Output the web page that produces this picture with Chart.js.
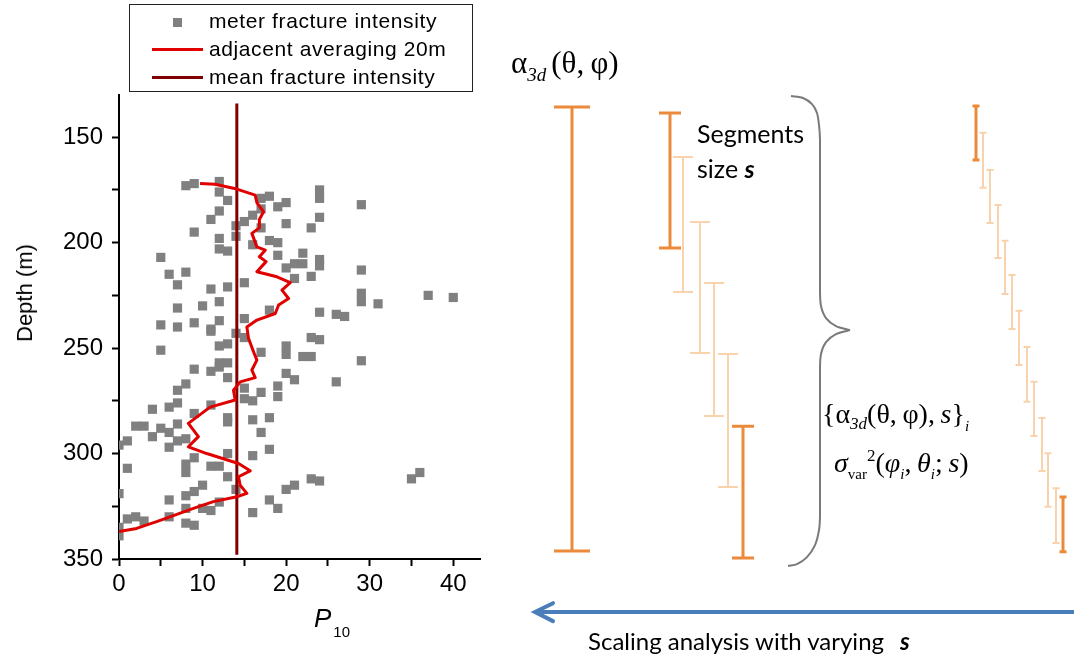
<!DOCTYPE html>
<html><head><meta charset="utf-8">
<script src="https://cdn.jsdelivr.net/npm/chart.js@4.4.1/dist/chart.umd.min.js"></script>
<style>
html,body{margin:0;padding:0;background:#fff;}
#wrap{position:relative;width:1074px;height:661px;overflow:hidden;background:#fff;}
canvas{position:absolute;}
.t{position:absolute;white-space:nowrap;line-height:1;color:#000;}
.sans{font-family:'Liberation Sans',Arial,sans-serif;}
.serif{font-family:'Liberation Serif','Times New Roman',serif;}
.lato{font-family:Lato,'Open Sans',sans-serif;}
.leg{font-family:'Liberation Sans',Arial,sans-serif;font-size:21px;letter-spacing:0.6px;}
</style></head><body>
<div id="wrap">
<canvas id="left" width="500" height="661" style="left:0;top:0"></canvas>
<canvas id="right" width="584" height="661" style="left:490px;top:0"></canvas>

<!-- legend -->
<div style="position:absolute;left:129px;top:4px;width:344px;height:88px;border:1.5px solid #222;box-sizing:border-box;"></div>
<div style="position:absolute;left:173px;top:18px;width:9px;height:9px;background:#808080;"></div>
<div style="position:absolute;left:152px;top:48px;width:51px;height:3px;background:#e00000;"></div>
<div style="position:absolute;left:152px;top:76px;width:51px;height:3px;background:#7f0000;"></div>
<div class="t leg" style="left:209px;top:10px">meter fracture intensity</div>
<div class="t leg" style="left:209px;top:38px">adjacent averaging 20m</div>
<div class="t leg" style="left:209px;top:66px">mean fracture intensity</div>

<!-- axis titles -->
<div class="t sans" style="left:25px;top:293px;font-size:22px;transform:translate(-50%,-50%) rotate(-90deg);">Depth (m)</div>
<div class="t sans" style="left:314px;top:605px;font-size:26px;font-style:italic;">P<span style="font-style:normal;font-size:15px;position:relative;top:10px;left:2px">10</span></div>

<!-- right panel text -->
<div class="t serif" style="left:511px;top:47px;font-size:31px;">α<span style="font-style:italic;font-size:19px;position:relative;top:8px">3d</span><span style="margin-left:5px">(θ,&thinsp;φ)</span></div>
<div class="t lato" style="left:697px;top:121px;font-size:25px;">Segments</div>
<div class="t lato" style="left:697px;top:156px;font-size:25px;">size <b><i>s</i></b></div>
<div class="t serif" style="left:822px;top:400px;font-size:28px;">{α<span style="font-style:italic;font-size:17px;position:relative;top:6px">3d</span>(θ,&thinsp;φ),&thinsp;<i>s</i>}<span style="font-style:italic;font-size:15px;position:relative;top:8px">i</span></div>
<div class="t serif" style="left:834px;top:449px;font-size:28px;"><i>σ</i><span style="font-size:15px;position:relative;top:7px">var</span><span style="font-size:17px;position:relative;top:-11px">2</span>(<i>φ</i><span style="font-style:italic;font-size:15px;position:relative;top:7px">i</span>,&thinsp;<i>θ</i><span style="font-style:italic;font-size:15px;position:relative;top:7px">i</span>;&thinsp;<i>s</i>)</div>
<div class="t lato" style="left:588px;top:629px;font-size:24px;">Scaling analysis with varying<b><i style="margin-left:16px">s</i></b></div>
</div>
<script>
// ---------------- data (left plot) ----------------
const meterP10 = [8,9,12,12,13,12,11,9,12,12,13,5,6,8,7,11,13,15,7,10,12,5,7,9,12,15,11,14,14,
  15,16,17,18,19,20,17,17,16,18,19,19,20,23,24,24,24,29,22,21,22,24,24,20,21,23,29,29,29,31,37,40,18,24,26,27,
  15,17,20,20,23,24,22,23,29,20,21,19,19,26,15,15,16,17,16,18,17,18,16,20,21,23,24,18,19,16,35,36,
  11,14,5,12,13,9,11,12,13,12,13,7,8,4,6,7,9,11,13,13,2,3,5,6,7,4,0,1,6,7,8,13,9,1,8,8,11,12,13,0,6,8,9,10,14,12,11,10,8,6,1,2,3,0,0,8,9];
const meterDepth = [173,172,171,176,180,185,189,195,198,203,204,207,215,214,220,222,221,219,231,230,228,239,240,238,237,236,241,192,197,
  190,187,179,178,183,181,184,193,201,199,200,206,191,193,188,175,179,182,205,210,210,208,211,212,217,216,213,224,228,229,225,226,232,233,234,235,
  245,252,249,253,245,246,254,254,256,262,265,268,273,266,269,274,275,271,284,283,290,298,301,317,315,312,313,322,326,328,312,309,
  242,243,251,249,248,260,261,257,257,259,264,270,267,279,278,276,281,277,283,285,287,287,288,290,286,292,296,294,297,294,293,300,302,307,305,309,306,306,311,319,322,320,318,315,317,323,327,326,326,330,331,330,332,335,339,333,334];
const avgP10 = [9.7,11.5,14.1,16.3,16.5,17.3,16.8,16.8,15.9,16.5,17.5,16.8,17.6,16.5,18.9,20.5,19.5,20.3,19.1,18.7,16.5,15.3,15.5,16.1,16.5,15.9,16.3,14.5,13.7,13.9,10.9,8.3,9.5,8.3,10.5,14.3,15.7,14.3,14.5,15.3,14.1,11.3,8.9,6.1,4.5,2.1,0];
const avgDepth = [172,172.3,174.6,177.5,181,185.4,189,193,195.6,202,203.6,206.7,209,213.8,216.2,219,222.5,226.5,229.6,233.6,236.7,240,245.4,251.7,255.7,260.4,264,266,270,274.6,278,285.7,292,296.8,300,304.7,308.2,311,315,318.9,320.5,322.8,326,330,332.3,335.5,337];
const meanP10 = 14.1;
const meanDepthRange = [134, 348];
const xTicksMajor = [0,10,20,30,40];
const yTicksMajor = [150,200,250,300,350];

// ---------------- data (right schematic, depth units) ----------------
const fullX = [82], fullTop = [135.8], fullBot = [346.2];
const s2DarkX = [180,253], s2DarkTop = [138.6,287], s2DarkBot = [202.6,349.5];
const s2LightX = [193,210,224,238], s2LightTop = [159.5,190.3,219.2,252.8], s2LightBot = [223.5,252.4,282.2,315.9];
const s3DarkX = [486,573], s3DarkTop = [135.3,320.6], s3DarkBot = [160.9,346.5];
const s3LightX = [493,500,508,515,522,529,537,544,552,558,566];
const s3LightTop = [148,165.6,182.2,199.1,215.4,232.3,249.5,266,283.2,299.8,316.4];
const s3LightBot = [174,190.8,207.3,224.4,241,258,275.5,291.7,308.3,325.2,342.4];
const braceUpX = [301,313,322,327,329,330,330,331,336,346,360];
const braceUpD = [130.6,131.5,134.4,138.6,144.3,151.4,222.5,230.1,235.8,239.6,241.5];
const braceLoX = [360,346,336,331,330,330,329,325,317,307,298];
const braceLoD = [241.5,243.4,247.2,252.8,260.4,329.2,336.3,343.4,349.1,352.4,353.3];
const arrowX = [600,45], arrowD = [375.1,375.1];
const headX = [63,45,63], headD = [370.9,375.1,379.4];

// ---------------- build ----------------
const zip = (xs, ys) => xs.map((x,i)=>({x, y: ys[i]}));
function errBars(xs, tops, bots, half){
  const p=[];
  xs.forEach((x,i)=>{
    p.push({x,y:tops[i]},{x,y:bots[i]},{x,y:null},
           {x:x-half,y:tops[i]},{x:x+half,y:tops[i]},{x,y:null},
           {x:x-half,y:bots[i]},{x:x+half,y:bots[i]},{x,y:null});
  });
  return p;
}
const tickFont = {family:"'Liberation Sans', Arial, sans-serif", size:24};

new Chart(document.getElementById('left'), {
  type:'scatter',
  data:{datasets:[
    {label:'meter fracture intensity', data: zip(meterP10, meterDepth), pointStyle:'rect', pointRadius:6.5, pointHoverRadius:6.5,
     backgroundColor:'#808080', borderWidth:0, showLine:false, order:3},
    {label:'adjacent averaging 20m', data: zip(avgP10, avgDepth), showLine:true, borderColor:'#e00000', borderWidth:3,
     pointRadius:0, tension:0, order:1, borderJoinStyle:'round'},
    {label:'mean fracture intensity', data: meanDepthRange.map(d=>({x:meanP10,y:d})), showLine:true, borderColor:'#7f0000',
     borderWidth:3, pointRadius:0, order:2}
  ]},
  options:{
    responsive:false, animation:false, events:[],
    layout:{padding:{top:95,right:20,left:0,bottom:0}},
    plugins:{legend:{display:false}, tooltip:{enabled:false}},
    scales:{
      x:{type:'linear', min:0, max:43.2, afterFit(s){s.height=102;},
        border:{display:true,color:'#000',width:2},
        grid:{display:true, drawOnChartArea:false, drawTicks:true, tickLength:7, tickColor:'#000', tickWidth:2},
        ticks:{stepSize:5, includeBounds:false, autoSkip:false, maxRotation:0, color:'#000', font:tickFont, padding:4,
          callback:v => xTicksMajor.includes(v) ? String(v) : ''}},
      y:{type:'linear', reverse:true, min:130, max:350, afterFit(s){s.width=119;},
        border:{display:true,color:'#000',width:2},
        grid:{display:true, drawOnChartArea:false, drawTicks:true, tickLength:7, tickColor:'#000', tickWidth:2},
        ticks:{stepSize:25, includeBounds:false, autoSkip:false, color:'#000', font:tickFont, padding:9,
          callback:v => yTicksMajor.includes(v) ? String(v) : ''}}
    }
  }
});

const dark = '#ec8a3c', light = '#f9d3ac', light3 = '#f7d2ad';
const lineDs = (data, color, w, extra) => Object.assign({data, showLine:true, borderColor:color, borderWidth:w, pointRadius:0, spanGaps:false, tension:0}, extra||{});
new Chart(document.getElementById('right'), {
  type:'scatter',
  data:{datasets:[
    lineDs(errBars(s3LightX, s3LightTop, s3LightBot, 3.5), light3, 2),
    lineDs(errBars(s2LightX, s2LightTop, s2LightBot, 10), light, 2),
    lineDs(errBars(s3DarkX, s3DarkTop, s3DarkBot, 3.5), dark, 3),
    lineDs(errBars(s2DarkX, s2DarkTop, s2DarkBot, 11), dark, 3),
    lineDs(errBars(fullX, fullTop, fullBot, 18), dark, 3),
    lineDs(zip(braceUpX, braceUpD), '#7a7a7a', 2, {tension:0.3}),
    lineDs(zip(braceLoX, braceLoD), '#7a7a7a', 2, {tension:0.3}),
    lineDs(zip(arrowX, arrowD), '#4a7ebb', 4),
    lineDs(zip(headX, headD), '#4a7ebb', 4, {borderJoinStyle:'miter', borderCapStyle:'round'})
  ]},
  options:{
    responsive:false, animation:false, events:[],
    layout:{padding:0},
    plugins:{legend:{display:false}, tooltip:{enabled:false}},
    scales:{
      x:{type:'linear', min:0, max:584, display:false},
      y:{type:'linear', min:85.07, max:398.3, reverse:true, display:false}
    }
  }
});
</script>
</body></html>
